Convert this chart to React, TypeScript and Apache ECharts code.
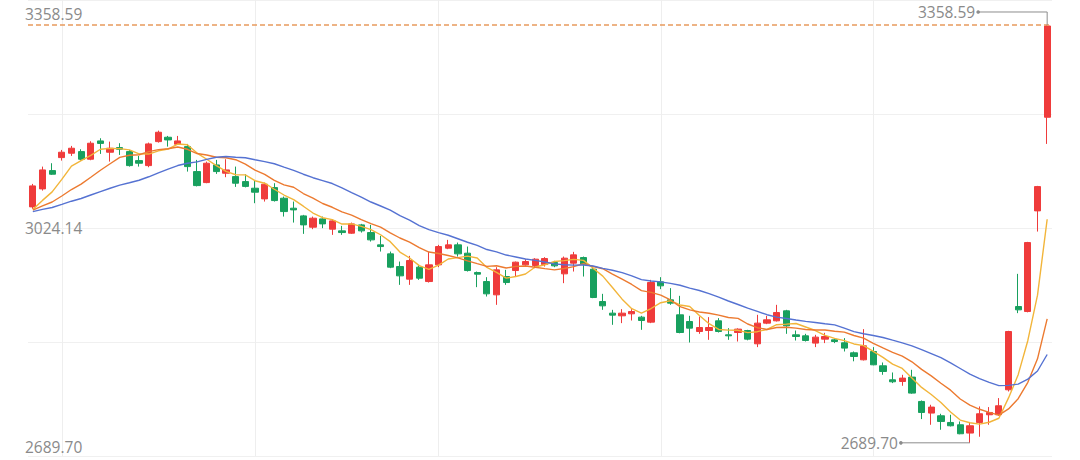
import React, { useEffect, useRef } from "react";
import * as echarts from "echarts";

const dates = [
  "2024-04-26", "2024-04-29", "2024-04-30",
  "2024-05-06", "2024-05-07", "2024-05-08", "2024-05-09", "2024-05-10", "2024-05-13", "2024-05-14", "2024-05-15", "2024-05-16", "2024-05-17",
  "2024-05-20", "2024-05-21", "2024-05-22", "2024-05-23", "2024-05-24", "2024-05-27", "2024-05-28", "2024-05-29", "2024-05-30", "2024-05-31",
  "2024-06-03", "2024-06-04", "2024-06-05", "2024-06-06", "2024-06-07", "2024-06-11", "2024-06-12", "2024-06-13", "2024-06-14",
  "2024-06-17", "2024-06-18", "2024-06-19", "2024-06-20", "2024-06-21", "2024-06-24", "2024-06-25", "2024-06-26", "2024-06-27", "2024-06-28",
  "2024-07-01", "2024-07-02", "2024-07-03", "2024-07-04", "2024-07-05", "2024-07-08", "2024-07-09", "2024-07-10", "2024-07-11", "2024-07-12",
  "2024-07-15", "2024-07-16", "2024-07-17", "2024-07-18", "2024-07-19", "2024-07-22", "2024-07-23", "2024-07-24", "2024-07-25", "2024-07-26",
  "2024-07-29", "2024-07-30", "2024-07-31",
  "2024-08-01", "2024-08-02", "2024-08-05", "2024-08-06", "2024-08-07", "2024-08-08", "2024-08-09", "2024-08-12", "2024-08-13", "2024-08-14",
  "2024-08-15", "2024-08-16", "2024-08-19", "2024-08-20", "2024-08-21", "2024-08-22", "2024-08-23", "2024-08-26", "2024-08-27", "2024-08-28",
  "2024-08-29", "2024-08-30",
  "2024-09-02", "2024-09-03", "2024-09-04", "2024-09-05", "2024-09-06", "2024-09-09", "2024-09-10", "2024-09-11", "2024-09-12", "2024-09-13",
  "2024-09-18", "2024-09-19", "2024-09-20", "2024-09-23", "2024-09-24", "2024-09-25", "2024-09-26", "2024-09-27", "2024-09-30",
];

const open = [
  3067.4, 3096.2, 3125.5, 3146.3, 3153.3, 3155.9, 3143.7, 3173.0, 3154.9, 3162.3,
  3155.9, 3141.5, 3133.5, 3171.9, 3178.9, 3167.7, 3163.9, 3123.9, 3106.3, 3134.6,
  3121.3, 3115.9, 3107.9, 3097.3, 3080.2, 3098.3, 3081.3, 3065.3, 3053.0, 3034.9,
  3048.2, 3031.7, 3029.0, 3025.3, 3038.6, 3026.3, 3006.6, 2992.2, 2971.9, 2951.7,
  2970.9, 2947.9, 2974.6, 3001.3, 3006.6, 2993.3, 2962.3, 2947.9, 2926.6, 2955.9,
  2965.5, 2974.6, 2973.5, 2975.1, 2978.3, 2960.2, 2977.3, 2986.3, 2967.7, 2915.9,
  2897.3, 2893.0, 2896.2, 2890.9, 2882.9, 2947.4, 2918.6, 2894.6, 2883.9, 2867.9,
  2869.5, 2885.0, 2862.6, 2866.3, 2869.5, 2848.2, 2881.3, 2885.0, 2901.0, 2862.6,
  2861.0, 2849.3, 2855.7, 2854.6, 2849.8, 2833.8, 2822.6, 2835.9, 2813.0, 2790.6,
  2787.9, 2794.9, 2755.9, 2737.3, 2733.0, 2722.3, 2718.6, 2705.3, 2722.3, 2734.6,
  2734.6, 2774.6, 2907.9, 2899.9, 3061.0, 3210.9,
];

const close = [
  3101.0, 3126.6, 3119.7, 3154.9, 3161.3, 3143.7, 3169.3, 3169.0, 3161.3, 3159.7,
  3133.5, 3137.3, 3168.2, 3186.9, 3174.6, 3173.0, 3131.9, 3101.5, 3137.3, 3123.9,
  3126.6, 3105.3, 3100.2, 3090.9, 3103.7, 3077.5, 3059.9, 3062.6, 3038.6, 3049.3,
  3040.2, 3045.0, 3026.3, 3040.2, 3029.0, 3014.6, 3003.9, 2970.9, 2957.0, 2981.5,
  2953.3, 2974.6, 3003.9, 3006.6, 2992.2, 2965.5, 2959.7, 2928.2, 2966.6, 2946.3,
  2978.9, 2979.9, 2983.7, 2984.7, 2973.0, 2985.3, 2990.6, 2975.7, 2922.3, 2909.0,
  2894.1, 2897.3, 2899.9, 2885.5, 2946.3, 2941.0, 2913.3, 2866.3, 2873.3, 2874.3,
  2874.3, 2867.9, 2861.0, 2871.7, 2855.7, 2881.3, 2886.6, 2898.3, 2877.0, 2859.9,
  2853.5, 2858.9, 2859.9, 2851.9, 2841.3, 2827.9, 2845.0, 2814.6, 2803.9, 2787.4,
  2793.3, 2769.3, 2738.3, 2746.9, 2723.9, 2717.0, 2704.2, 2717.0, 2736.2, 2738.3,
  2749.0, 2867.9, 2902.6, 3010.3, 3099.9, 3357.0,
];

const low = [
  3064.2, 3093.5, 3118.6, 3141.5, 3149.0, 3141.5, 3142.1, 3152.2, 3139.9, 3150.6,
  3131.9, 3131.9, 3130.9, 3170.3, 3163.9, 3166.6, 3123.9, 3100.2, 3105.3, 3120.2,
  3114.9, 3099.4, 3098.6, 3073.3, 3075.9, 3075.9, 3051.9, 3042.3, 3024.2, 3031.7,
  3033.3, 3022.6, 3022.6, 3024.2, 3026.3, 3011.9, 2995.9, 2969.3, 2942.6, 2942.6,
  2950.6, 2946.3, 2970.9, 2999.7, 2987.9, 2963.9, 2938.9, 2923.9, 2910.6, 2942.6,
  2955.9, 2973.0, 2969.3, 2971.9, 2970.9, 2945.3, 2963.9, 2955.9, 2921.3, 2902.6,
  2878.6, 2881.3, 2885.5, 2870.6, 2881.3, 2935.7, 2910.6, 2865.0, 2850.3, 2864.2,
  2854.6, 2866.3, 2854.6, 2851.9, 2853.8, 2842.9, 2879.7, 2883.9, 2864.2, 2853.5,
  2851.9, 2842.9, 2849.3, 2849.3, 2835.9, 2820.2, 2821.5, 2813.8, 2798.6, 2785.3,
  2781.0, 2768.2, 2727.7, 2718.6, 2710.6, 2715.9, 2703.4, 2689.70, 2699.4, 2718.6,
  2733.0, 2771.9, 2897.3, 2898.6, 3027.9, 3168.2,
];

const high = [
  3104.2, 3131.9, 3137.3, 3158.6, 3165.0, 3159.7, 3172.5, 3177.3, 3171.9, 3169.3,
  3158.6, 3149.0, 3170.3, 3189.5, 3181.0, 3181.0, 3168.2, 3142.6, 3139.9, 3142.6,
  3143.7, 3131.9, 3119.7, 3109.5, 3106.3, 3105.3, 3083.9, 3075.9, 3054.6, 3051.9,
  3051.9, 3047.7, 3037.0, 3042.3, 3040.2, 3038.6, 3021.0, 2995.9, 2979.9, 2989.0,
  2974.6, 2995.9, 3006.6, 3014.6, 3010.3, 3003.9, 2963.9, 2954.9, 2970.9, 2966.6,
  2979.9, 2983.7, 2985.3, 2986.9, 2981.0, 2987.9, 2995.4, 2987.9, 2970.9, 2928.2,
  2902.6, 2903.7, 2903.7, 2893.0, 2950.6, 2954.9, 2937.3, 2925.0, 2893.0, 2891.9,
  2890.9, 2889.3, 2873.3, 2873.0, 2870.6, 2894.6, 2893.0, 2910.6, 2902.6, 2869.5,
  2864.2, 2862.6, 2865.8, 2857.3, 2857.3, 2835.9, 2871.7, 2842.9, 2818.3, 2802.3,
  2798.6, 2806.6, 2757.5, 2750.6, 2736.2, 2734.6, 2723.9, 2722.3, 2747.9, 2746.9,
  2761.3, 2869.0, 2960.2, 3011.4, 3101.0, 3358.59,
];

const ma5 = [
  3063.4, 3077.8, 3091.4, 3111.4, 3132.7, 3141.3, 3149.8, 3159.7, 3161.0, 3160.7,
  3158.6, 3152.2, 3152.0, 3157.2, 3160.0, 3168.0, 3166.9, 3153.6, 3143.7, 3133.5,
  3124.2, 3118.9, 3118.6, 3109.3, 3105.3, 3095.6, 3086.4, 3078.9, 3068.5, 3057.6,
  3050.1, 3047.1, 3039.9, 3040.2, 3036.2, 3031.1, 3022.8, 3011.7, 2995.1, 2985.6,
  2973.3, 2967.4, 2974.1, 2984.0, 2986.1, 2988.5, 2985.6, 2970.4, 2962.4, 2953.3,
  2955.9, 2960.0, 2971.1, 2974.8, 2980.0, 2981.3, 2983.4, 2981.8, 2969.3, 2956.5,
  2938.3, 2919.7, 2904.5, 2897.2, 2904.7, 2914.0, 2917.2, 2910.4, 2908.0, 2893.6,
  2880.4, 2871.2, 2870.1, 2869.8, 2866.1, 2867.6, 2871.2, 2878.8, 2879.7, 2880.7,
  2875.1, 2869.5, 2861.8, 2856.8, 2853.2, 2848.0, 2845.2, 2836.2, 2826.6, 2815.7,
  2808.8, 2793.6, 2778.4, 2767.1, 2754.3, 2739.1, 2726.1, 2721.8, 2719.7, 2722.6,
  2729.0, 2761.6, 2798.8, 2853.6, 2926.0, 3047.6,
];

const ma10 = [
  3062.1, 3069.0, 3075.2, 3084.8, 3095.2, 3103.9, 3114.9, 3126.1, 3136.5, 3146.6,
  3150.0, 3150.9, 3155.9, 3159.1, 3160.4, 3163.2, 3159.6, 3152.8, 3150.4, 3146.8,
  3146.1, 3142.9, 3136.0, 3126.4, 3119.4, 3109.8, 3102.6, 3098.8, 3088.8, 3081.5,
  3072.8, 3066.8, 3059.4, 3054.3, 3046.9, 3040.5, 3034.9, 3025.8, 3017.6, 3010.9,
  3002.1, 2995.1, 2992.8, 2989.5, 2985.8, 2981.0, 2976.5, 2972.2, 2973.2, 2969.6,
  2972.2, 2972.8, 2970.8, 2968.5, 2966.6, 2968.7, 2971.7, 2976.5, 2972.0, 2968.4,
  2959.9, 2951.6, 2943.2, 2933.3, 2930.6, 2926.1, 2918.4, 2907.6, 2902.6, 2899.1,
  2897.2, 2894.1, 2890.3, 2889.0, 2879.9, 2874.0, 2871.2, 2874.4, 2874.8, 2873.3,
  2871.2, 2870.4, 2870.3, 2868.4, 2866.9, 2861.5, 2857.3, 2849.0, 2841.6, 2834.4,
  2828.4, 2819.4, 2807.2, 2796.8, 2785.0, 2774.0, 2759.9, 2750.1, 2743.4, 2738.4,
  2734.0, 2743.9, 2760.4, 2786.6, 2824.2, 2888.2,
];

const ma20 = [
  3059.9, 3063.4, 3066.4, 3071.4, 3076.5, 3080.8, 3086.4, 3091.9, 3097.2, 3102.3,
  3106.0, 3110.0, 3115.6, 3122.0, 3127.9, 3133.6, 3137.3, 3139.4, 3143.4, 3146.8,
  3148.0, 3146.9, 3146.0, 3142.8, 3139.9, 3136.5, 3131.1, 3125.8, 3119.7, 3114.1,
  3109.5, 3104.8, 3097.8, 3090.4, 3083.1, 3075.2, 3068.8, 3062.3, 3053.3, 3046.1,
  3037.5, 3030.9, 3026.1, 3022.0, 3016.4, 3010.8, 3005.8, 2999.1, 2995.4, 2990.3,
  2987.2, 2983.9, 2981.8, 2979.1, 2976.2, 2974.8, 2974.1, 2974.3, 2972.7, 2969.0,
  2966.0, 2962.1, 2957.0, 2950.9, 2948.7, 2947.4, 2945.0, 2942.0, 2937.3, 2933.6,
  2928.5, 2922.9, 2916.7, 2911.1, 2905.2, 2900.0, 2894.8, 2890.9, 2888.7, 2886.3,
  2884.2, 2882.3, 2880.4, 2878.6, 2873.3, 2867.7, 2864.4, 2861.6, 2858.3, 2854.0,
  2849.8, 2844.8, 2838.8, 2832.5, 2826.0, 2817.8, 2808.7, 2799.6, 2792.5, 2786.4,
  2781.2, 2781.6, 2783.7, 2791.7, 2804.7, 2831.1,
];

const yTickLabels = ["2689.70", "3024.14", "3358.59"];

const Y_MIN = 2668.6;
const Y_MAX = 3398.6;

const RED = "#ef3b3b";
const GREEN = "#18a05e";
const LABEL_GRAY = "#8a8a8a";
const DASH_ORANGE = "#e89a5e";
const FONT = '"Open Sans", "Noto Sans", sans-serif';

export default function App() {
  const ref = useRef<HTMLDivElement>(null);

  useEffect(() => {
    document.body.style.margin = "0";
    const chart = echarts.init(ref.current as HTMLDivElement, null, { renderer: "svg" });

    const candles = dates.map((_, i) => [open[i], close[i], low[i], high[i]]);
    let maxIdx = 0;
    let minIdx = 0;
    high.forEach((v, i) => {
      if (v > high[maxIdx]) maxIdx = i;
    });
    low.forEach((v, i) => {
      if (v < low[minIdx]) minIdx = i;
    });
    const monthStarts = new Set<number>();
    dates.forEach((d, i) => {
      if (i > 0 && d.slice(0, 7) !== dates[i - 1].slice(0, 7)) monthStarts.add(i);
    });

    const option: any = {
      animation: false,
      backgroundColor: "#ffffff",
      grid: { left: 28, right: 28, top: 0, bottom: 4, containLabel: false },
      xAxis: {
        type: "category",
        data: dates,
        boundaryGap: true,
        axisLine: { show: false },
        axisTick: { show: false },
        axisLabel: { show: false },
        splitLine: {
          show: true,
          alignWithLabel: true,
          interval: (idx: number) => monthStarts.has(idx),
          lineStyle: { color: "#eeeeee", width: 1 },
        },
      },
      yAxis: [
        {
          type: "value",
          min: Y_MIN,
          max: Y_MAX,
          show: false,
          splitLine: { show: false },
        },
        {
          type: "value",
          min: 0,
          max: 4,
          interval: 1,
          axisLine: { show: false },
          axisTick: { show: false },
          axisLabel: { show: false },
          splitLine: { show: true, lineStyle: { color: "#f0f0f0", width: 1 } },
        },
        {
          type: "value",
          min: 0,
          max: 2,
          interval: 1,
          position: "left",
          axisLine: { show: false },
          axisTick: { show: false },
          splitLine: { show: false },
          axisLabel: {
            show: true,
            inside: true,
            margin: -3,
            align: "left",
            verticalAlignMaxLabel: "top",
            verticalAlignMinLabel: "bottom",
            color: LABEL_GRAY,
            fontSize: 15.5,
            fontFamily: FONT,
            formatter: (v: number) =>
              v >= 2 ? `{t|${yTickLabels[2]}}` : v <= 0 ? `{b|${yTickLabels[0]}}` : `{m|${yTickLabels[1]}}`,
            rich: {
              t: { lineHeight: 28, fontSize: 15.5, fontFamily: FONT, color: LABEL_GRAY },
              m: { lineHeight: 18, fontSize: 15.5, fontFamily: FONT, color: LABEL_GRAY },
              b: { lineHeight: 18, fontSize: 15.5, fontFamily: FONT, color: LABEL_GRAY },
            },
          },
        },
      ],
      series: [
        {
          type: "candlestick",
          xAxisIndex: 0,
          yAxisIndex: 0,
          data: candles,
          barWidth: "70%",
          itemStyle: {
            color: RED,
            color0: GREEN,
            borderColor: RED,
            borderColor0: GREEN,
            borderWidth: 1,
          },
          markLine: {
            silent: true,
            symbol: ["none", "none"],
            label: { show: false },
            itemStyle: { color: DASH_ORANGE },
            lineStyle: { color: DASH_ORANGE, type: [5, 3], width: 1.5, opacity: 1 },
            emphasis: { disabled: true },
            data: [{ yAxis: high[maxIdx], lineStyle: { color: DASH_ORANGE } }],
          },
        },
        {
          type: "line",
          name: "MA5",
          data: ma5,
          yAxisIndex: 0,
          showSymbol: false,
          symbol: "none",
          lineStyle: { color: "#f2b53a", width: 1.4 },
          z: 3,
        },
        {
          type: "line",
          name: "MA10",
          data: ma10,
          yAxisIndex: 0,
          showSymbol: false,
          symbol: "none",
          lineStyle: { color: "#ec7a30", width: 1.4 },
          z: 3,
        },
        {
          type: "line",
          name: "MA20",
          data: ma20,
          yAxisIndex: 0,
          showSymbol: false,
          symbol: "none",
          lineStyle: { color: "#5572d2", width: 1.4 },
          z: 3,
        },
        {
          type: "custom",
          xAxisIndex: 0,
          yAxisIndex: 0,
          silent: true,
          clip: false,
          z: 10,
          data: [
            [maxIdx, high[maxIdx], 1],
            [minIdx, low[minIdx], 0],
          ],
          encode: { x: 0, y: 1 },
          renderItem: (params: any, api: any) => {
            const idx = api.value(0);
            const val = api.value(1);
            const isMax = api.value(2) === 1;
            const p = api.coord([idx, val]);
            const ly = isMax ? p[1] - 13 : p[1];
            const lx = p[0] - 69;
            return {
              type: "group",
              children: [
                {
                  type: "polyline",
                  shape: { points: [[p[0], p[1]], [p[0], ly], [lx, ly]] },
                  style: { stroke: "#8c8c8c", lineWidth: 1, fill: null },
                },
                {
                  type: "circle",
                  shape: { cx: lx, cy: ly, r: 1.8 },
                  style: { fill: "#8c8c8c" },
                },
                {
                  type: "text",
                  x: lx - 3,
                  y: ly,
                  style: {
                    text: Number(val).toFixed(2),
                    align: "right",
                    verticalAlign: "middle",
                    fill: LABEL_GRAY,
                    fontSize: 15.5,
                    fontFamily: FONT,
                  },
                },
              ],
            };
          },
        },
      ],
    };

    chart.setOption(option);
    return () => {
      chart.dispose();
    };
  }, []);

  return (
    <div
      ref={ref}
      style={{ position: "fixed", left: 0, top: 0, width: 1080, height: 460, background: "#fff" }}
    />
  );
}
